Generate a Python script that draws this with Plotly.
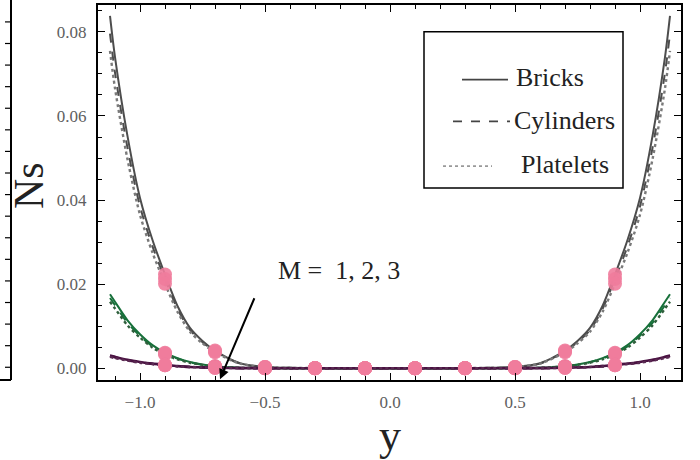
import plotly.graph_objects as go

# Half profile (y >= 0); the entropy generation profiles are symmetric about y = 0
y_half = [0.0, 0.1, 0.2, 0.3, 0.4, 0.5, 0.6, 0.7, 0.75, 0.8, 0.85, 0.9, 0.95, 1.0, 1.05, 1.1, 1.12]

# M = 1
ns_m1_bricks = [0, 0, 0.00001, 0.00003, 0.0001, 0.0003, 0.0012, 0.0042, 0.0065, 0.0096, 0.0148, 0.0223, 0.0305, 0.0405, 0.0552, 0.0740, 0.0838]
ns_m1_cylinders = [0, 0, 0.00001, 0.00003, 0.0001, 0.0003, 0.0011, 0.0040, 0.0062, 0.0091, 0.0141, 0.0212, 0.0290, 0.0385, 0.0524, 0.0703, 0.0796]
ns_m1_platelets = [0, 0, 0.00001, 0.00003, 0.0001, 0.0003, 0.0011, 0.0038, 0.0059, 0.0087, 0.0134, 0.0201, 0.0275, 0.0365, 0.0497, 0.0666, 0.0755]
# M = 2
ns_m2_bricks = [0, 0, 0, 0, 0.00001, 0.00003, 0.0001, 0.0005, 0.0009, 0.0015, 0.0024, 0.0037, 0.0055, 0.0081, 0.0114, 0.0158, 0.0176]
ns_m2_cylinders = [0, 0, 0, 0, 0.00001, 0.00003, 0.0001, 0.0005, 0.0008, 0.0014, 0.0023, 0.0035, 0.0052, 0.0077, 0.0108, 0.0150, 0.0167]
ns_m2_platelets = [0, 0, 0, 0, 0.00001, 0.00003, 0.0001, 0.0004, 0.0008, 0.0013, 0.0021, 0.0033, 0.0049, 0.0073, 0.0102, 0.0142, 0.0158]
# M = 3
ns_m3_bricks = [0, 0, 0, 0, 0, 0.00001, 0.00003, 0.0001, 0.0002, 0.0003, 0.0005, 0.0008, 0.0011, 0.0015, 0.0020, 0.0027, 0.0030]
ns_m3_cylinders = [0, 0, 0, 0, 0, 0.00001, 0.00003, 0.0001, 0.0002, 0.0003, 0.0005, 0.0007, 0.0010, 0.0014, 0.0019, 0.0026, 0.0029]
ns_m3_platelets = [0, 0, 0, 0, 0, 0.00001, 0.00003, 0.0001, 0.0002, 0.0003, 0.0004, 0.0007, 0.0010, 0.0013, 0.0018, 0.0024, 0.0027]

# Points highlighted with markers
marker_y = [0.1, 0.3, 0.5, 0.7, 0.9]

shape_names = ["Bricks", "Cylinders", "Platelets"]
m_values = [1, 2, 3]

x_tick_vals = [-1.0, -0.5, 0.0, 0.5, 1.0]
y_tick_vals = [0.00, 0.02, 0.04, 0.06, 0.08]

series = {
    (1, "Bricks"): ns_m1_bricks, (1, "Cylinders"): ns_m1_cylinders, (1, "Platelets"): ns_m1_platelets,
    (2, "Bricks"): ns_m2_bricks, (2, "Cylinders"): ns_m2_cylinders, (2, "Platelets"): ns_m2_platelets,
    (3, "Bricks"): ns_m3_bricks, (3, "Cylinders"): ns_m3_cylinders, (3, "Platelets"): ns_m3_platelets,
}

m_colors = {1: "#4d4d4d", 2: "#17703a", 3: "#4a1242"}
dot_colors = {1: "#7a7a7a", 2: "#2f5f3c", 3: "#5a2a52"}
dash_style = {"Bricks": "solid", "Cylinders": "dash", "Platelets": "dot"}
MARKER_PINK = "#f07c9c"
SERIF = "Liberation Serif, Times New Roman, serif"


def mirror(xs, vals):
    full_x = [-x for x in reversed(xs[1:])] + list(xs)
    full_v = list(reversed(vals[1:])) + list(vals)
    return full_x, full_v


fig = go.Figure()

for m in m_values:
    for name in shape_names:
        fx, fv = mirror(y_half, series[(m, name)])
        color = dot_colors[m] if name == "Platelets" else m_colors[m]
        width = 2.4 if name == "Platelets" else (2.6 if m == 3 else 2)
        fig.add_trace(go.Scatter(
            x=fx, y=fv, mode="lines",
            line=dict(color=color, width=width, dash=dash_style[name], shape="spline", smoothing=0.8),
            showlegend=False, hoverinfo="skip",
        ))

# Markers on every curve at the highlighted positions
mx, my = [], []
for m in m_values:
    for name in shape_names:
        vals = series[(m, name)]
        for yv in marker_y:
            v = vals[y_half.index(yv)]
            mx += [-yv, yv]
            my += [v, v]
fig.add_trace(go.Scatter(
    x=mx, y=my, mode="markers",
    marker=dict(color=MARKER_PINK, size=14, opacity=0.9, line=dict(width=0)),
    showlegend=False, hoverinfo="skip",
))

# Plot area in pixels: x 98..681, y 3..380
L, R, T, B = 98, 681, 3, 380
W, H = 700, 460


def px(xp):
    return (xp - L) / (R - L)


def py(yp):
    return (B - yp) / (B - T)


axis_common = dict(
    showline=True, linecolor="black", linewidth=2, mirror="allticks",
    ticks="inside", ticklen=7, tickwidth=1.3, tickcolor="black",
    showgrid=False, zeroline=False,
    tickfont=dict(family=SERIF, size=17, color="#606060"),
)

fig.update_xaxes(
    range=[-1.168, 1.164], tickvals=x_tick_vals, ticktext=["\u22121.0", "\u22120.5", "0.0", "0.5", "1.0"],
    minor=dict(dtick=0.1, tick0=0, ticks="inside", ticklen=4, tickcolor="black", tickwidth=1.2),
    ticklabelstandoff=6,
    **axis_common,
)
fig.update_yaxes(
    range=[-0.0028, 0.0864], tickvals=y_tick_vals, ticktext=["0.00", "0.02", "0.04", "0.06", "0.08"],
    minor=dict(dtick=0.005, tick0=0, ticks="inside", ticklen=4, tickcolor="black", tickwidth=1.2),
    ticklabelstandoff=6,
    **axis_common,
)

annotations = [
    dict(text="y", x=0.5, y=py(436), xref="paper", yref="paper", showarrow=False,
         font=dict(family=SERIF, size=44, color="#222222"), xanchor="center", yanchor="middle"),
    dict(text="Ns", x=px(29), y=py(185), xref="paper", yref="paper", showarrow=False, textangle=-90,
         font=dict(family=SERIF, size=42, color="#222222"), xanchor="center", yanchor="middle"),
    dict(text="M =\u00a0\u00a01, 2, 3", x=-0.204, y=0.0232, xref="x", yref="y", showarrow=False,
         font=dict(family=SERIF, size=26, color="#222222"), xanchor="center", yanchor="middle"),
    dict(text="", x=-0.68, y=-0.0026, ax=-0.54, ay=0.0170, xref="x", yref="y", axref="x", ayref="y",
         showarrow=True, arrowhead=2, arrowsize=1, arrowwidth=2, arrowcolor="black"),
]

# Legend entries
legend_rows = [
    ("Bricks", 462, 508, 78, 514, 76, "solid", "#444444"),
    ("Cylinders", 453, 510, 120, 512, 119, "dash", "#444444"),
    ("Platelets", 443, 492, 165, 519, 163, "dot", "#999999"),
]
shapes = [
    dict(type="rect", xref="paper", yref="paper", x0=px(424), x1=px(623), y0=py(187), y1=py(30),
         line=dict(color="black", width=1.5), fillcolor="white", layer="above"),
]
for label, x0, x1, yl, xt, yt, dash, col in legend_rows:
    shapes.append(dict(type="line", xref="paper", yref="paper", x0=px(x0), x1=px(x1), y0=py(yl), y1=py(yl),
                       line=dict(color=col, width=1.6, dash=dash), layer="above"))
    annotations.append(dict(text=label, x=px(xt), y=py(yt), xref="paper", yref="paper", showarrow=False,
                            xanchor="left", yanchor="middle", font=dict(family=SERIF, size=26, color="#222222")))

# Edge of the neighbouring panel on the left
shapes.append(dict(type="line", xref="paper", yref="paper", x0=px(11), x1=px(11), y0=py(380), y1=py(-2),
                   line=dict(color="black", width=2)))
shapes.append(dict(type="line", xref="paper", yref="paper", x0=px(-2), x1=px(11), y0=py(380), y1=py(380),
                   line=dict(color="black", width=2)))
for k in range(17):
    yk = 20 + k * 21.7
    shapes.append(dict(type="line", xref="paper", yref="paper", x0=px(5), x1=px(11), y0=py(yk), y1=py(yk),
                       line=dict(color="black", width=1.2)))

fig.update_layout(
    width=W, height=H,
    margin=dict(l=L, r=W - R, t=T, b=H - B),
    paper_bgcolor="white", plot_bgcolor="white",
    showlegend=False,
    annotations=annotations,
    shapes=shapes,
)

fig.write_html("out.html")
